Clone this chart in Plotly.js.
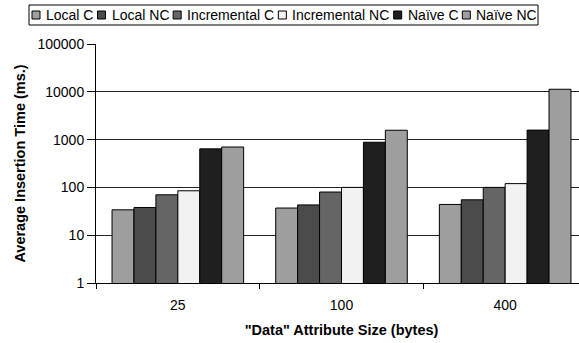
<!DOCTYPE html>
<html>
<head>
<meta charset="utf-8">
<script src="https://cdn.plot.ly/plotly-3.0.1.min.js"></script>
<style>
html, body { margin: 0; padding: 0; overflow: hidden; background: #fff; }
#chart { width: 587px; height: 343px; }
</style>
</head>
<body>
<div id="chart"></div>
<script>
// ---- data ----
var categories = ['25', '100', '400'];
var seriesNames = ['Local C', 'Local NC', 'Incremental C', 'Incremental NC', 'Naïve C', 'Naïve NC'];
var localC = [34, 37, 44];
var localNC = [38, 43, 55];
var incrementalC = [70, 80, 100];
var incrementalNC = [85, 100, 120];
var naiveC = [640, 880, 1580];
var naiveNC = [700, 1570, 11300];
var seriesValues = [localC, localNC, incrementalC, incrementalNC, naiveC, naiveNC];
var seriesColors = ['#9e9e9e', '#4b4b4b', '#656565', '#f2f2f2', '#1f1f1f', '#9e9e9e'];
var yTickVals = [1, 10, 100, 1000, 10000, 100000];
var yTickText = ['1', '10', '100', '1000', '10000', '100000'];

var FONT = 'Arial, "Liberation Sans", sans-serif';
var W = 587, H = 343, ML = 96, MR = 0, MT = 44, MB = 60;
var PW = W - ML - MR, PH = H - MT - MB;
function px2x(px) { return (px - ML) / PW; }
function py2y(py) { return 1 - (py - MT) / PH; }

var traces = seriesNames.map(function (name, i) {
  return {
    type: 'bar',
    name: name,
    x: categories,
    y: seriesValues[i],
    marker: { color: seriesColors[i], line: { color: '#000', width: 1 } },
    showlegend: false,
    hoverinfo: 'x+y+name'
  };
});

// ---- manual legend (Excel style) ----
var ctx = document.createElement('canvas').getContext('2d');
ctx.font = '14px ' + FONT;
var symSize = 8, symGap = 4;
var widths = seriesNames.map(function (n) { return ctx.measureText(n).width; });
var startX = 32, endX = 535;
var content = widths.reduce(function (a, w) { return a + symSize + symGap + w; }, 0);
var gap = (endX - startX - content) / (seriesNames.length - 1);
var legY = 15;
var shapes = [{
  type: 'rect', xref: 'paper', yref: 'paper',
  x0: px2x(29), x1: px2x(538), y0: py2y(25), y1: py2y(5),
  line: { color: '#000', width: 1 }, fillcolor: 'rgba(0,0,0,0)'
}];
var annotations = [];
var cx = startX;
seriesNames.forEach(function (n, i) {
  shapes.push({
    type: 'rect', xref: 'paper', yref: 'paper',
    x0: px2x(cx), x1: px2x(cx + symSize),
    y0: py2y(legY + symSize / 2), y1: py2y(legY - symSize / 2),
    line: { color: '#000', width: 1 }, fillcolor: seriesColors[i]
  });
  annotations.push({
    xref: 'paper', yref: 'paper', x: px2x(cx + symSize + symGap), y: py2y(legY),
    xanchor: 'left', yanchor: 'middle', showarrow: false, text: n,
    font: { family: FONT, size: 14, color: '#000' }
  });
  cx += symSize + symGap + widths[i] + gap;
});

var layout = {
  width: W, height: H,
  margin: { l: ML, r: MR, t: MT, b: MB },
  paper_bgcolor: '#fff', plot_bgcolor: '#fff',
  font: { family: FONT, size: 14, color: '#000' },
  barmode: 'group', bargap: 0.196, bargroupgap: 0,
  showlegend: false,
  xaxis: {
    type: 'category',
    range: [-0.5, 2.5],
    automargin: false,
    showline: true, linecolor: '#000', linewidth: 1,
    ticks: 'outside', tickson: 'boundaries', ticklen: 5, tickcolor: '#000',
    ticklabelstandoff: 9,
    showgrid: false, zeroline: false,
    tickfont: { family: FONT, size: 14 },
    title: { text: '<b>"Data" Attribute Size (bytes)</b>', font: { family: FONT, size: 14.5 }, standoff: 13 }
  },
  yaxis: {
    type: 'log', range: [0, 5],
    automargin: false,
    tickvals: yTickVals, ticktext: yTickText,
    showline: true, linecolor: '#000', linewidth: 1,
    ticks: 'outside', ticklen: 8, tickcolor: '#000',
    showgrid: true, gridcolor: '#222', gridwidth: 1,
    zeroline: false,
    tickfont: { family: FONT, size: 14 },
    title: { text: '<b>Average Insertion Time (ms.)</b>', font: { family: FONT, size: 14.5 }, standoff: 8 }
  },
  shapes: shapes,
  annotations: annotations
};

Plotly.newPlot('chart', traces, layout, { staticPlot: true, displayModeBar: false });
</script>
</body>
</html>
